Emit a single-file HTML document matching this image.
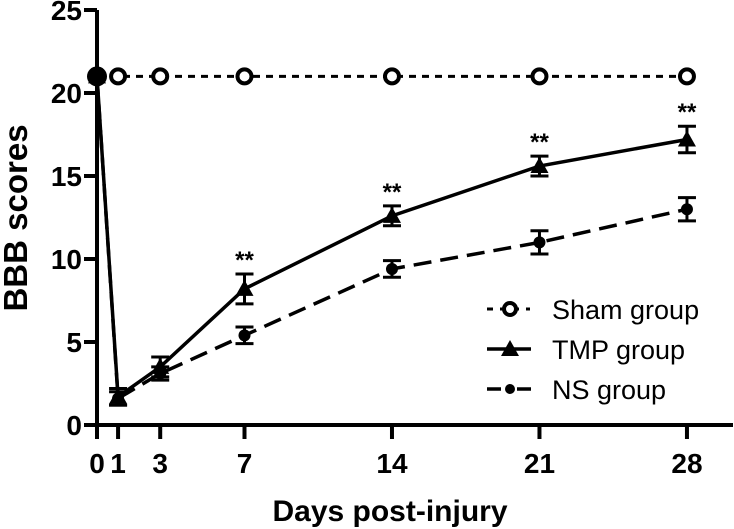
<!DOCTYPE html>
<html><head><meta charset="utf-8"><style>
html,body{margin:0;padding:0;background:#fff}
svg{display:block;font-family:"Liberation Sans",Arial,sans-serif}
</style></head><body>
<svg id="chart" width="734" height="529" viewBox="0 0 734 529">
<g id="axes"></g><g id="series"></g><g id="legend"></g>
</svg>
<script>
const days = [0,1,3,7,14,21,28];
const shamValues = [21,21,21,21,21,21,21];
const tmpValues = [21,1.7,3.5,8.2,12.6,15.6,17.2];
const tmpErrors = [0,0.5,0.6,0.9,0.6,0.6,0.8];
const nsValues = [21,1.6,3.1,5.4,9.4,11.0,13.0];
const nsErrors = [0,0.4,0.4,0.5,0.5,0.7,0.7];
const yTicks = [0,5,10,15,20,25];
const xTickLabels = ["0","1","3","7","14","21","28"];
const sigDays = [7,14,21,28];

const NS='http://www.w3.org/2000/svg';
const X0=97, PXD=21.07, Y0=425, PXU=16.6;
const xs=d=>X0+d*PXD, ys=v=>Y0-v*PXU;
function mk(tag,attrs,parent,text){const e=document.createElementNS(NS,tag);for(const k in attrs)e.setAttribute(k,attrs[k]);if(text!==undefined)e.textContent=text;parent.appendChild(e);return e;}
const axes=document.getElementById('axes'), ser=document.getElementById('series'), leg=document.getElementById('legend');

let e=mk('line',{x1:X0,y1:ys(25),x2:X0,y2:Y0+2,stroke:'#000','stroke-width':4},axes);

e=mk('line',{x1:X0-2,y1:Y0,x2:733,y2:Y0,stroke:'#000','stroke-width':4},axes);

yTicks.forEach(t=>{
  let l=mk('line',{x1:X0-13,y1:ys(t),x2:X0,y2:ys(t),stroke:'#000','stroke-width':4},axes);
  
  let tx=mk('text',{x:X0-15,y:ys(t)+10,'text-anchor':'end','font-size':28,'font-weight':'bold'},axes,String(t));
  
});
days.forEach((d,i)=>{
  let l=mk('line',{x1:xs(d),y1:Y0,x2:xs(d),y2:Y0+14,stroke:'#000','stroke-width':4},axes);
  
  let tx=mk('text',{x:xs(d),y:473,'text-anchor':'middle','font-size':28,'font-weight':'bold'},axes,xTickLabels[i]);
  
});
e=mk('text',{x:390,y:521,'text-anchor':'middle','font-size':30,'font-weight':'bold'},axes,'Days post-injury');

e=mk('text',{x:0,y:0,transform:'translate(27,218) rotate(-90)','text-anchor':'middle','font-size':33,'font-weight':'bold'},axes,'BBB scores');


const pts=(vals)=>days.map((d,i)=>xs(d)+','+ys(vals[i])).join(' ');
e=mk('polyline',{points:pts(shamValues),fill:'none',stroke:'#000','stroke-width':3,'stroke-dasharray':'7,6'},ser);

e=mk('polyline',{points:pts(nsValues),fill:'none',stroke:'#000','stroke-width':3.5,'stroke-dasharray':'18,9'},ser);

e=mk('polyline',{points:pts(tmpValues),fill:'none',stroke:'#000','stroke-width':3.5},ser);


function errbar(d,v,er,name){
  if(!er)return;
  const g=mk('g',{stroke:'#000','stroke-width':3},ser);
  
  
  const x=xs(d);
  mk('line',{x1:x,y1:ys(v+er),x2:x,y2:ys(v-er)},g);
  mk('line',{x1:x-9,y1:ys(v+er),x2:x+9,y2:ys(v+er)},g);
  mk('line',{x1:x-9,y1:ys(v-er),x2:x+9,y2:ys(v-er)},g);
}
days.forEach((d,i)=>{
  errbar(d,nsValues[i],nsErrors[i],'ns-error-bar');
  errbar(d,tmpValues[i],tmpErrors[i],'tmp-error-bar');
});
days.forEach((d,i)=>{
  let c=mk('circle',{cx:xs(d),cy:ys(nsValues[i]),r:6,fill:'#000'},ser);
  
  const x=xs(d),y=ys(tmpValues[i]);
  let t=mk('polygon',{points:`${x},${y-9} ${x-9},${y+7} ${x+9},${y+7}`,fill:'#000'},ser);
  
  if(d===0){
    let f=mk('circle',{cx:x,cy:ys(shamValues[i]),r:10,fill:'#000'},ser);
    
  } else {
    let s=mk('circle',{cx:x,cy:ys(shamValues[i]),r:7,fill:'#fff',stroke:'#000','stroke-width':4},ser);
    
  }
});
sigDays.forEach(d=>{
  const i=days.indexOf(d);
  let s=mk('text',{x:xs(d),y:ys(tmpValues[i]+tmpErrors[i])-6,'text-anchor':'middle','font-size':24,'font-weight':'bold'},ser,'**');
  
});

const entries=[['Sham group','sham'],['TMP group','tmp'],['NS group','ns']];
entries.forEach((en,k)=>{
  const y=309+k*40;
  const g=mk('g',{},leg);
  
  
  if(en[1]==='sham'){
    mk('line',{x1:487,y1:y,x2:530,y2:y,stroke:'#000','stroke-width':3,'stroke-dasharray':'6,7'},g);
    mk('circle',{cx:510,cy:y,r:6,fill:'#fff',stroke:'#000','stroke-width':4},g);
  } else if(en[1]==='tmp'){
    mk('line',{x1:487,y1:y,x2:531,y2:y,stroke:'#000','stroke-width':3.5},g);
    mk('polygon',{points:`510,${y-9} 501,${y+7} 519,${y+7}`,fill:'#000'},g);
  } else {
    mk('line',{x1:487,y1:y,x2:531,y2:y,stroke:'#000','stroke-width':3.5,'stroke-dasharray':'14,6,4,6'},g);
    mk('circle',{cx:510,cy:y,r:5,fill:'#000'},g);
  }
  mk('text',{x:552,y:y+10,'font-size':27},g,en[0]);
});
</script>
</body></html>
